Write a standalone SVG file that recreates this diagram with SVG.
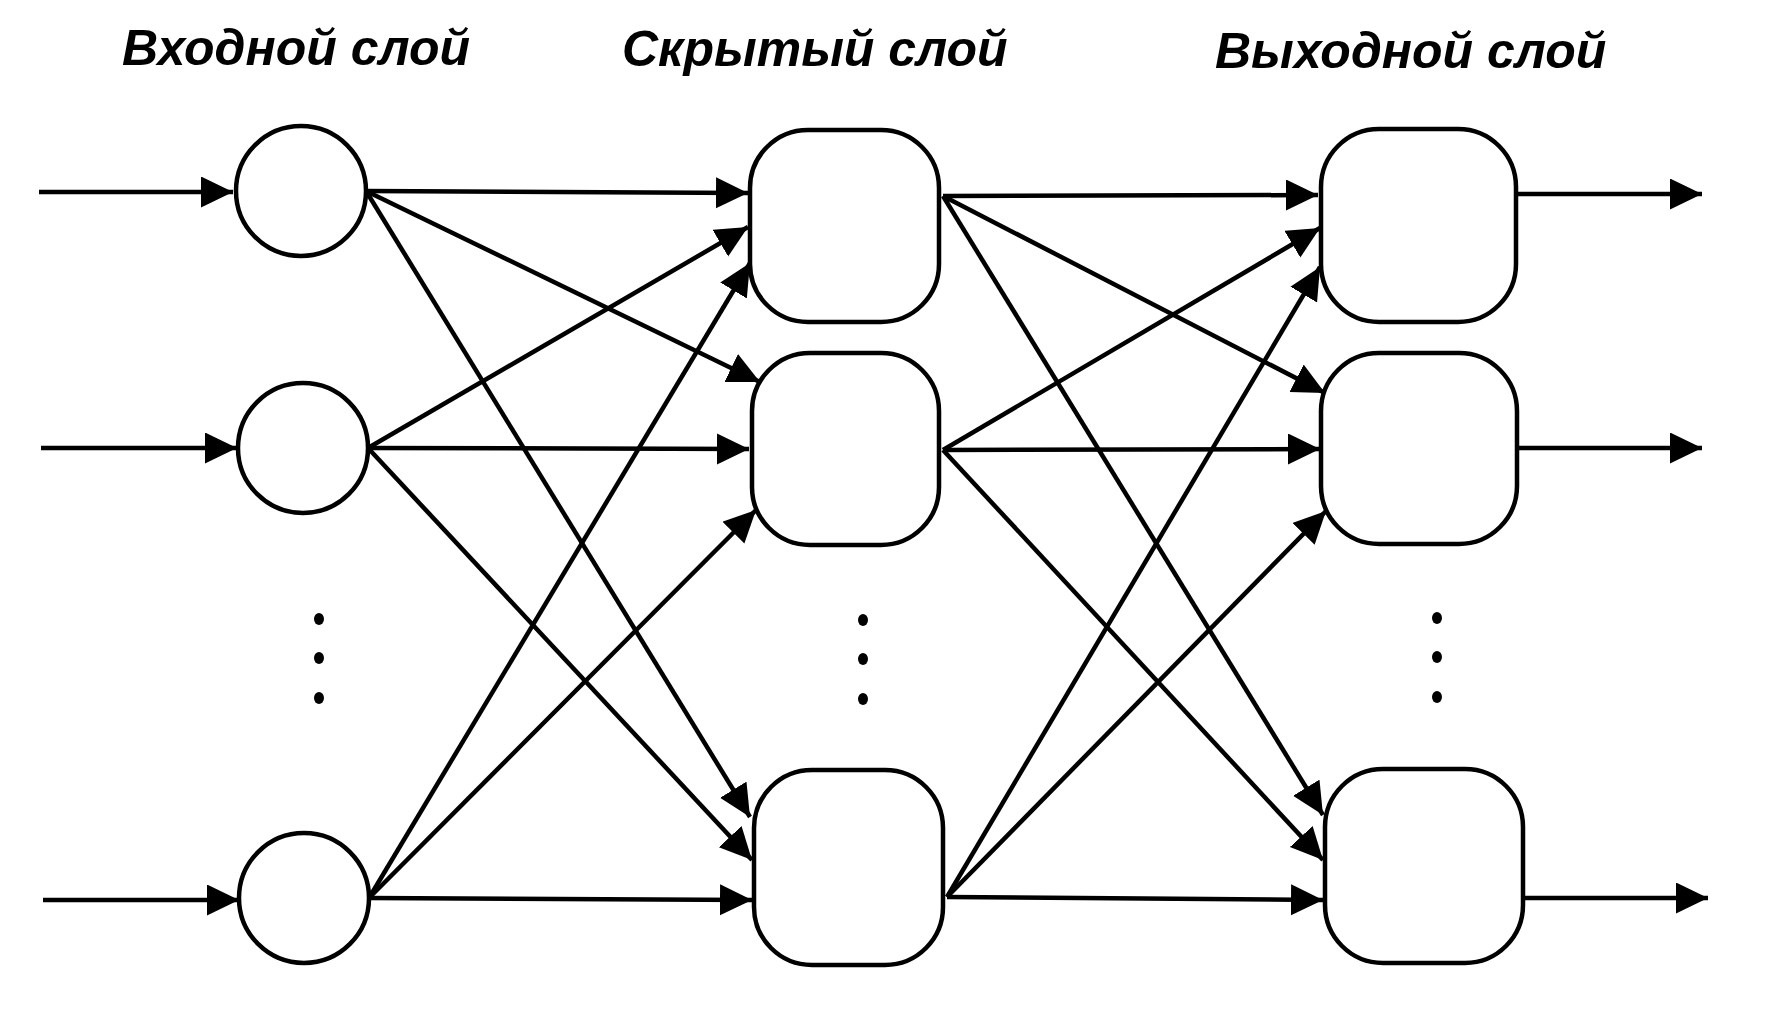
<svg xmlns="http://www.w3.org/2000/svg" width="1772" height="1021" viewBox="0 0 1772 1021">
<defs>
<marker id="ah" markerUnits="userSpaceOnUse" markerWidth="34" markerHeight="32" refX="32" refY="15.5" orient="auto">
<path d="M0,0 L32,15.5 L0,31 Z" fill="#000"/>
</marker>
<style>
.t{font-family:"Liberation Sans",Arial,sans-serif;font-weight:bold;font-style:italic;font-size:50px;fill:#000}
.n{fill:#fff;stroke:#000;stroke-width:4.5}
.c line{stroke:#000;stroke-width:4.5;marker-end:url(#ah)}
.d{fill:#000}
</style>
</defs>
<rect width="1772" height="1021" fill="#fff"/>
<g id="titles">
<text class="t" x="122" y="65">Входной слой</text>
<text class="t" x="622" y="66">Скрытый слой</text>
<text class="t" x="1215" y="68">Выходной слой</text>
</g>
<g id="connectors" class="c">
<line x1="39" y1="192" x2="233" y2="192"/>
<line x1="41" y1="448" x2="237" y2="448"/>
<line x1="43" y1="900" x2="239" y2="900"/>
<line x1="366" y1="191" x2="748" y2="193"/>
<line x1="366" y1="191" x2="760" y2="382"/>
<line x1="366" y1="191" x2="750" y2="817"/>
<line x1="368" y1="448" x2="748" y2="227"/>
<line x1="368" y1="448" x2="749" y2="449"/>
<line x1="368" y1="448" x2="752" y2="860"/>
<line x1="369" y1="898" x2="750" y2="263"/>
<line x1="369" y1="898" x2="756" y2="510"/>
<line x1="369" y1="898" x2="752" y2="900"/>
<line x1="943" y1="196" x2="1318" y2="195"/>
<line x1="943" y1="196" x2="1325" y2="393"/>
<line x1="943" y1="196" x2="1323" y2="815"/>
<line x1="943" y1="450" x2="1320" y2="228"/>
<line x1="943" y1="450" x2="1320" y2="449"/>
<line x1="943" y1="450" x2="1323" y2="860"/>
<line x1="947" y1="897" x2="1320" y2="267"/>
<line x1="947" y1="897" x2="1326" y2="511"/>
<line x1="947" y1="897" x2="1323" y2="900"/>
<line x1="1516" y1="194" x2="1702" y2="194"/>
<line x1="1517" y1="448" x2="1702" y2="448"/>
<line x1="1523" y1="898" x2="1708" y2="898"/>
</g>
<g id="in1"><circle class="n" cx="301" cy="191" r="65"/></g>
<g id="in2"><circle class="n" cx="303" cy="448" r="65"/></g>
<g id="in3"><circle class="n" cx="304" cy="898" r="65"/></g>
<g id="hid1"><rect class="n" x="750" y="130" width="189" height="192" rx="58" ry="58"/></g>
<g id="hid2"><rect class="n" x="752" y="353" width="187" height="192" rx="58" ry="58"/></g>
<g id="hid3"><rect class="n" x="754" y="770" width="189" height="195" rx="58" ry="58"/></g>
<g id="out1"><rect class="n" x="1321" y="129" width="195" height="193" rx="58" ry="58"/></g>
<g id="out2"><rect class="n" x="1321" y="353" width="196" height="191" rx="58" ry="58"/></g>
<g id="out3"><rect class="n" x="1325" y="769" width="198" height="194" rx="58" ry="58"/></g>
<g id="dots">
<ellipse class="d" cx="319" cy="619" rx="5" ry="6"/>
<ellipse class="d" cx="319" cy="658" rx="5" ry="6"/>
<ellipse class="d" cx="319" cy="698" rx="5" ry="6"/>
<ellipse class="d" cx="863" cy="620" rx="5" ry="6"/>
<ellipse class="d" cx="863" cy="659" rx="5" ry="6"/>
<ellipse class="d" cx="863" cy="699" rx="5" ry="6"/>
<ellipse class="d" cx="1437" cy="618" rx="5" ry="6"/>
<ellipse class="d" cx="1437" cy="657" rx="5" ry="6"/>
<ellipse class="d" cx="1437" cy="697" rx="5" ry="6"/>
</g>
</svg>
